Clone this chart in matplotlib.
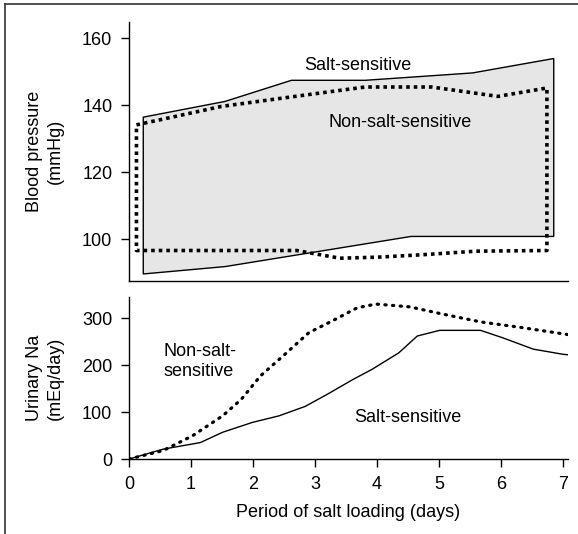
import matplotlib.pyplot as plt
from matplotlib.lines import Line2D

plt.rcParams['font.family'] = ['Liberation Sans', 'DejaVu Sans']
plt.rcParams['font.size'] = 13

# blood pressure, salt-sensitive band (upper and lower edges)
ss_up_days = [0.23, 1.55, 2.62, 3.81, 5.54, 6.85]
ss_up_bp = [136.4, 141.1, 147.4, 147.4, 149.6, 153.9]
ss_lo_days = [0.23, 1.55, 4.55, 6.85]
ss_lo_bp = [89.6, 91.8, 100.8, 100.8]

# blood pressure, non-salt-sensitive band
nss_up_days = [0.12, 1.49, 2.68, 3.81, 4.88, 5.95, 6.74]
nss_up_bp = [134.1, 139.6, 142.6, 145.4, 145.4, 142.6, 145.1]
nss_lo_days = [0.12, 2.7, 3.4, 4.0, 4.7, 5.6, 6.74]
nss_lo_bp = [96.6, 96.6, 94.3, 94.6, 95.3, 96.4, 96.6]

# urinary sodium
ss_na_days = [0, 0.55, 1.15, 1.51, 1.99, 2.42, 2.84, 3.2, 3.62, 3.92, 4.35, 4.65,
              5.01, 5.67, 6.03, 6.52, 7.0, 7.08]
ss_na = [0, 21, 35, 57, 78, 92, 112, 138, 170, 191, 226, 262, 274, 274, 258, 234, 223, 222]
nss_na_days = [0, 0.55, 1.03, 1.51, 1.81, 2.12, 2.48, 2.9, 3.32, 3.68, 3.98, 4.53,
               5.01, 5.67, 6.33, 7.08]
nss_na = [0, 18, 50, 92, 127, 177, 219, 269, 297, 322, 330, 324, 310, 292, 280, 265]

fig = plt.figure(figsize=(5.78, 5.34), dpi=100)
ax1 = fig.add_axes([0.2232, 0.4738, 0.7595, 0.485])
ax2 = fig.add_axes([0.2232, 0.1404, 0.7595, 0.3034])

# top panel
poly_x = ss_up_days + ss_lo_days[::-1]
poly_y = ss_up_bp + ss_lo_bp[::-1]
ax1.fill(poly_x, poly_y, facecolor='#e6e6e6', edgecolor='black', lw=1.0)
nx = nss_up_days + nss_lo_days[::-1] + [nss_up_days[0]]
ny = nss_up_bp + nss_lo_bp[::-1] + [nss_up_bp[0]]
ax1.plot(nx, ny, color='black', lw=2.6, linestyle=(0, (1, 1.1)))
ax1.text(3.69, 151.7, 'Salt-sensitive', ha='center', va='center')
ax1.text(4.37, 134.8, 'Non-salt-sensitive', ha='center', va='center')
ax1.set_xlim(0, 7.08)
ax1.set_ylim(87.5, 164.8)
ax1.set_yticks([100, 120, 140, 160])
ax1.set_xticks([])
ax1.set_ylabel('Blood pressure\n(mmHg)', labelpad=13, linespacing=1.3)

# bottom panel
ax2.plot(ss_na_days, ss_na, color='black', lw=1.0)
ax2.plot(nss_na_days, nss_na, color='black', lw=2.3, linestyle=(0, (0.4, 2.0)),
         dash_capstyle='round')
ax2.text(0.55, 208, 'Non-salt-\nsensitive', ha='left', va='center', linespacing=1.2)
ax2.text(4.5, 89, 'Salt-sensitive', ha='center', va='center')
ax2.set_xlim(0, 7.08)
ax2.set_ylim(0, 345)
ax2.set_yticks([0, 100, 200, 300])
ax2.set_xticks(range(8))
ax2.set_ylabel('Urinary Na\n(mEq/day)', labelpad=13, linespacing=1.3)
ax2.set_xlabel('Period of salt loading (days)', labelpad=8)

for ax in (ax1, ax2):
    ax.spines['top'].set_visible(False)
    ax.spines['right'].set_visible(False)
    ax.spines['left'].set_linewidth(1.0)
    ax.spines['bottom'].set_linewidth(1.0)
    ax.tick_params(direction='out', length=6, width=1.0, labelsize=13, pad=6)

# outer frame (left and top edges only)
fig.add_artist(Line2D([5 / 578, 5 / 578], [0, 1 - 4 / 534], color='#333333', lw=1.2,
                      transform=fig.transFigure))
fig.add_artist(Line2D([5 / 578, 1], [1 - 4 / 534, 1 - 4 / 534], color='#333333', lw=1.2,
                      transform=fig.transFigure))

fig.savefig('out.png', dpi=100)
